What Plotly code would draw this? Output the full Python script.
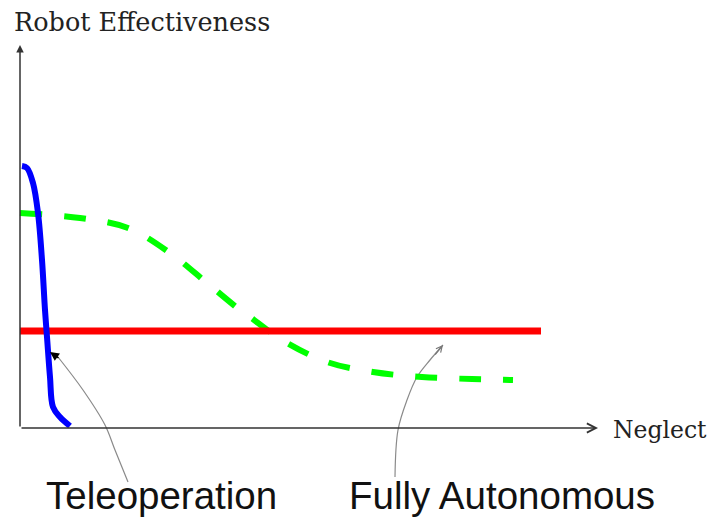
import plotly.graph_objects as go

# Data (neglect vs robot effectiveness, arbitrary units)
tele_neglect = [2, 7, 13, 18, 22, 25, 27, 30, 33, 40, 50]
tele_effect = [262, 260, 245, 215, 168, 118, 91, 51, 21, 11, 2]

auto_neglect = [0, 60, 108, 150, 187, 220, 230, 262, 307, 353, 402, 452, 493]
auto_effect = [215, 210, 200, 175, 145, 118, 111, 88, 66, 56, 51, 49, 48]

level_neglect = [0, 521]
level_effect = [97, 97]

# Leader curves for the labels
tele_leader_x = [108, 95, 85, 63, 38]
tele_leader_y = [-54, -22, 3, 38, 71]
auto_leader_x = [375, 378, 387, 397, 410, 423]
auto_leader_y = [-49, -2, 28, 51, 68, 83]

fig = go.Figure()

fig.add_trace(go.Scatter(x=tele_leader_x, y=tele_leader_y, mode="lines",
                         line=dict(color="#8a8a8a", width=1.2, shape="spline"),
                         hoverinfo="skip"))
fig.add_trace(go.Scatter(x=auto_leader_x, y=auto_leader_y, mode="lines",
                         line=dict(color="#8a8a8a", width=1.2, shape="spline"),
                         hoverinfo="skip"))

fig.add_trace(go.Scatter(x=auto_neglect, y=auto_effect, mode="lines",
                         line=dict(color="#00ff00", width=6, dash="22px,22px", shape="spline"),
                         name="Fully Autonomous"))
fig.add_trace(go.Scatter(x=level_neglect, y=level_effect, mode="lines",
                         line=dict(color="#ff0000", width=7),
                         name="Level"))
fig.add_trace(go.Scatter(x=tele_neglect, y=tele_effect, mode="lines",
                         line=dict(color="#0000ff", width=6, shape="spline"),
                         name="Teleoperation"))

axis_col = "#333333"
annotations = [
    # y axis with arrow
    dict(x=0, y=383, ax=0, ay=0, xref="x", yref="y", axref="x", ayref="y",
         text="", showarrow=True, arrowhead=2, arrowsize=1, arrowwidth=1.5, arrowcolor=axis_col),
    # x axis with arrow
    dict(x=578, y=0, ax=0, ay=0, xref="x", yref="y", axref="x", ayref="y",
         text="", showarrow=True, arrowhead=5, arrowsize=1.2, arrowwidth=1.5, arrowcolor=axis_col),
    # leader arrowheads
    dict(x=30, y=76, ax=10, ay=7, xref="x", yref="y",
         text="", showarrow=True, arrowhead=2, arrowsize=1.2, arrowwidth=1.5, arrowcolor="#000000"),
    dict(x=423, y=83, ax=-9, ay=11, xref="x", yref="y",
         text="", showarrow=True, arrowhead=5, arrowsize=1, arrowwidth=1.2, arrowcolor="#777777"),
    # texts
    dict(x=-8, y=406, xref="x", yref="y", text="Robot Effectiveness", showarrow=False,
         xanchor="left", yanchor="middle",
         font=dict(family="DejaVu Serif", size=25.5, color="#222222")),
    dict(x=591, y=-2, xref="x", yref="y", text="Neglect", showarrow=False,
         xanchor="left", yanchor="middle",
         font=dict(family="DejaVu Serif", size=23.5, color="#222222")),
    dict(x=141, y=-67, xref="x", yref="y", text="Teleoperation", showarrow=False,
         xanchor="center", yanchor="middle",
         font=dict(family="Liberation Sans", size=38.5, color="#111111")),
    dict(x=482, y=-67, xref="x", yref="y", text="Fully Autonomous", showarrow=False,
         xanchor="center", yanchor="middle",
         font=dict(family="Liberation Sans", size=38.5, color="#111111")),
]

# The page body has an 8px margin, so the figure is sized/shifted to compensate.
fig.update_layout(
    width=709, height=509,
    margin=dict(l=0, r=0, t=0, b=0),
    paper_bgcolor="white", plot_bgcolor="white",
    showlegend=False,
    xaxis=dict(range=[-12, 697], visible=False, fixedrange=True),
    yaxis=dict(range=[-89, 420], visible=False, fixedrange=True),
    annotations=annotations,
)

fig.write_html("out.html")
